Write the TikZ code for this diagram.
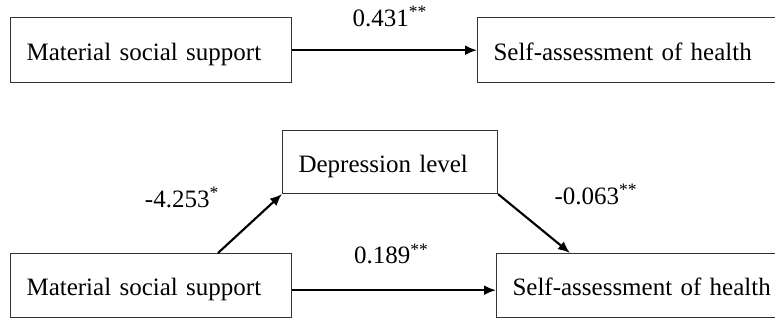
\documentclass[tikz,border=0pt]{standalone}
\usepackage{fontspec}
\setmainfont{Liberation Serif}
\usetikzlibrary{positioning,calc,arrows.meta}

\begin{document}
\begin{tikzpicture}[x=0.75pt,y=-0.75pt,font=\fontsize{18.75}{22}\selectfont,
  box/.style={draw=black!80,line width=0.8pt,anchor=north west,align=left,inner xsep=12pt,text height=19pt,text depth=4pt,minimum height=49pt},
  arr/.style={-{Latex[length=9pt,width=7.5pt]},line width=1.6pt},
  coef/.style={inner sep=0pt}]
\useasboundingbox (0,0) rectangle (775,320);
\clip (0,0) rectangle (775,320);
\node[box,text width=186.75pt] (msA) at (10,17) {Material social support};
\node[box,text width=216pt] (shA) at (477,17) {Self-assessment of health};
\node[box,text width=137.25pt,minimum height=47.25pt] (dep) at (282,130) {Depression level};
\node[box,text width=186.75pt,minimum height=48pt] (msB) at (10,253) {Material social support};
\node[box,text width=216pt,minimum height=48pt] (shB) at (496,253) {Self-assessment of health};
\draw[arr] (msA) -- (shA) node[coef,midway,above=17pt,xshift=4pt]{0.431\textsuperscript{**}};
\draw[arr] ([yshift=-3.5pt]msB.east) -- ([yshift=-3.5pt]msB.east -| shB.west) node[coef,midway,above=18.75pt,xshift=-2pt]{0.189\textsuperscript{**}};
\draw[arr] ($(msB.north west)+(208,0)$) -- (dep.south west) node[coef,midway,above left=11.25pt and 22.5pt]{-4.253\textsuperscript{*}};
\draw[arr] (dep.south east) -- ($(shB.north west)+(74,0)$) node[coef,midway,above right=13.5pt and 14.6pt]{-0.063\textsuperscript{**}};
\end{tikzpicture}
\end{document}
